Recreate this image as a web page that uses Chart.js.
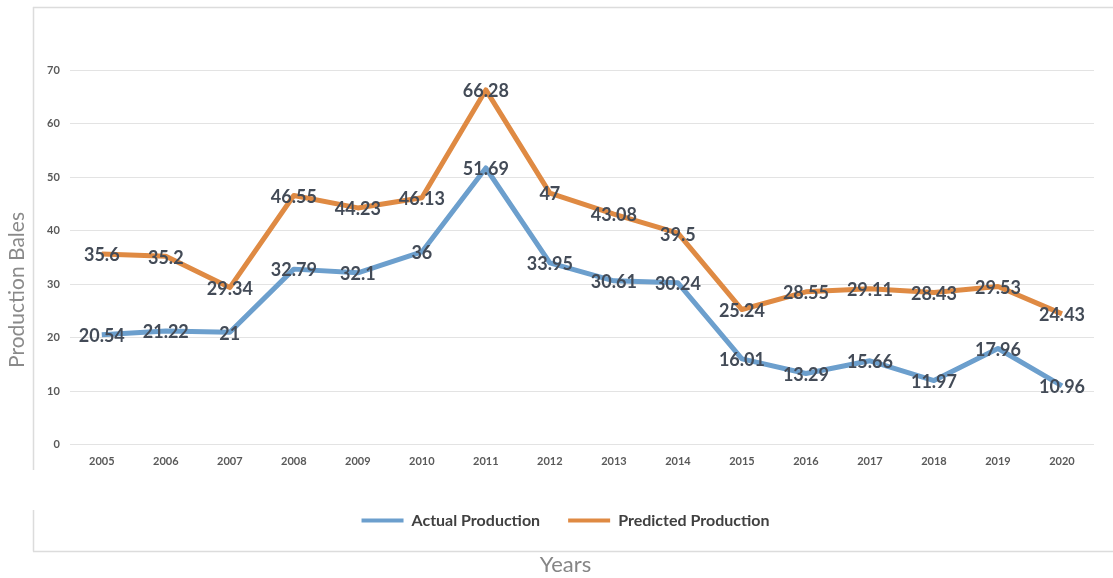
<!DOCTYPE html>
<html>
<head>
<meta charset="utf-8">
<script src="https://cdn.jsdelivr.net/npm/chart.js@4/dist/chart.umd.min.js"></script>
<style>
  html, body { margin: 0; padding: 0; background: #fff; }
  #wrap { width: 1113px; height: 578px; }
</style>
</head>
<body>
<div id="wrap"><canvas id="c"></canvas></div>
<script>
const years = ['2005','2006','2007','2008','2009','2010','2011','2012','2013','2014','2015','2016','2017','2018','2019','2020']
const actual    = [20.54, 21.22, 21, 32.79, 32.1, 36, 51.69, 33.95, 30.61, 30.24, 16.01, 13.29, 15.66, 11.97, 17.96, 10.96]
const predicted = [35.6, 35.2, 29.34, 46.55, 44.23, 46.13, 66.28, 47, 43.08, 39.5, 25.24, 28.55, 29.11, 28.43, 29.53, 24.43]

const FONT = 'Lato, "Open Sans", sans-serif'
const BLUE = '#6c9fcd'
const ORANGE = '#df8a43'

// light frame round the picture, and the y title that sits outside it
const frame = {
  id: 'frame',
  beforeDraw(chart) {
    const ctx = chart.ctx
    ctx.save()
    ctx.strokeStyle = '#dcdcdc'
    ctx.lineWidth = 1.5
    ctx.beginPath()
    ctx.moveTo(33, 7.5); ctx.lineTo(1113, 7.5)
    ctx.moveTo(33.5, 7); ctx.lineTo(33.5, 470)
    ctx.moveTo(33.5, 510); ctx.lineTo(33.5, 551.5)
    ctx.moveTo(33, 551.5); ctx.lineTo(1113, 551.5)
    ctx.stroke()

    ctx.translate(17, 290)
    ctx.rotate(-Math.PI / 2)
    ctx.font = '21px ' + FONT
    ctx.fillStyle = '#8a8a8a'
    ctx.textAlign = 'center'
    ctx.textBaseline = 'middle'
    ctx.fillText('Production Bales', 0, 0)
    ctx.restore()
  }
}

// values written on top of every point
const valueLabels = {
  id: 'valueLabels',
  afterDatasetsDraw(chart) {
    const ctx = chart.ctx
    ctx.save()
    ctx.font = 'bold 18px ' + FONT
    ctx.fillStyle = '#434b57'
    ctx.textAlign = 'center'
    ctx.textBaseline = 'middle'
    chart.data.datasets.forEach((ds, i) => {
      chart.getDatasetMeta(i).data.forEach((pt, j) => {
        ctx.fillText(String(ds.data[j]), pt.x, pt.y + 1.5)
      })
    })
    ctx.restore()
  }
}

new Chart(document.getElementById('c'), {
  type: 'line',
  data: {
    labels: years,
    datasets: [
      { label: 'Actual Production', data: actual, borderColor: BLUE, backgroundColor: BLUE,
        borderWidth: 5, pointRadius: 0, borderJoinStyle: 'round', fill: false },
      { label: 'Predicted Production', data: predicted, borderColor: ORANGE, backgroundColor: ORANGE,
        borderWidth: 5, pointRadius: 0, borderJoinStyle: 'round', fill: false },
    ],
  },
  options: {
    animation: false,
    responsive: true,
    maintainAspectRatio: false,
    layout: { padding: { top: 70, right: 19, bottom: 0, left: 37 } },
    plugins: {
      tooltip: { enabled: false },
      legend: {
        position: 'bottom',
        title: { display: true, text: '', font: { size: 10 }, padding: 1.4 },
        labels: {
          boxWidth: 42,
          boxHeight: 4,
          padding: 28,
          color: '#404040',
          font: { family: FONT, size: 16, weight: 'bold' },
          generateLabels(chart) {
            return Chart.defaults.plugins.legend.labels.generateLabels(chart).map(l => ({ ...l, lineWidth: 0 }))
          },
        },
      },
      title: {
        display: true,
        position: 'bottom',
        text: 'Years',
        color: '#858585',
        font: { family: FONT, size: 22, weight: 'normal' },
        padding: { top: 13, bottom: 0 },
      },
    },
    scales: {
      x: {
        offset: true,
        grid: { display: false },
        border: { display: false },
        ticks: { color: '#595959', padding: 2, maxRotation: 0, font: { family: FONT, size: 11, weight: 'bold' } },
      },
      y: {
        min: 0,
        max: 70,
        ticks: { stepSize: 10, color: '#595959', padding: 10, font: { family: FONT, size: 11, weight: 'bold' } },
        grid: { color: '#e3e3e3', lineWidth: 1, drawTicks: false },
        border: { display: false },
      },
    },
  },
  plugins: [frame, valueLabels],
})
</script>
</body>
</html>
